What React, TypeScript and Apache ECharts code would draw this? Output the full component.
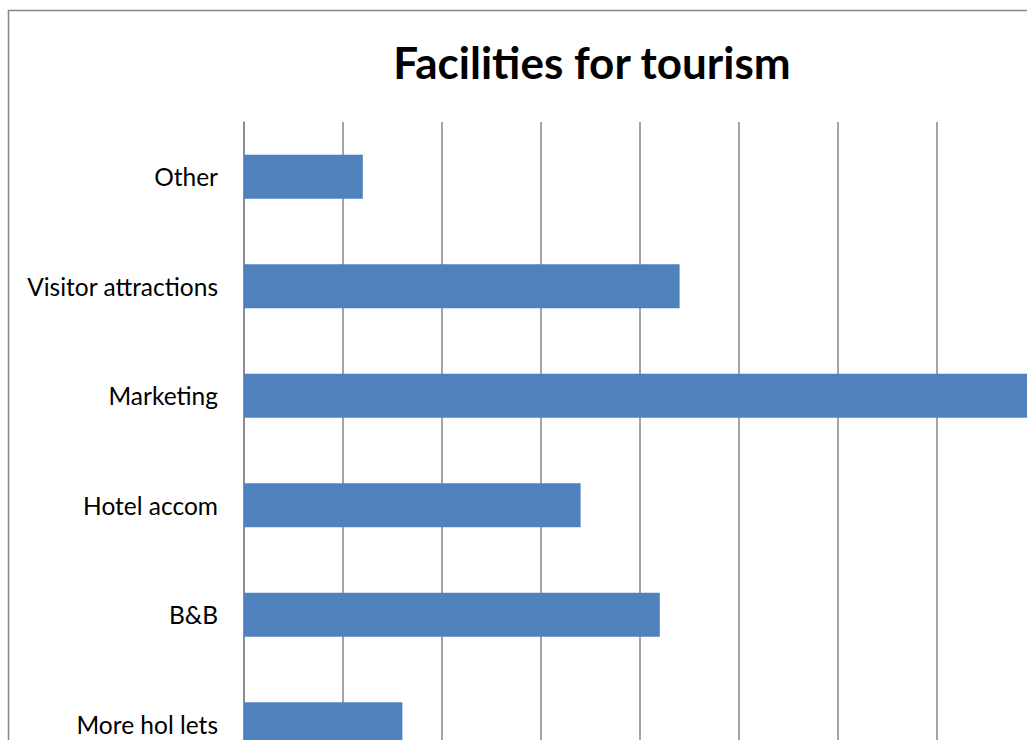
import React, { useEffect, useRef } from "react";
import * as echarts from "echarts";

const categories = ["Other", "Visitor attractions", "Marketing", "Hotel accom", "B&B", "More hol lets"];
const values = [6, 22, 42, 17, 21, 8];
const xTicks = { min: 0, max: 45, interval: 5 };

export default function App() {
  const ref = useRef<HTMLDivElement>(null);
  useEffect(() => {
    if (!ref.current) return;
    const chart = echarts.init(ref.current, null, { renderer: "svg" });
    chart.setOption({
      animation: false,
      backgroundColor: "#ffffff",
      graphic: [
        {
          type: "rect",
          shape: { x: 8.5, y: 10.5, width: 1168, height: 860 },
          style: { fill: "none", stroke: "#888888", lineWidth: 1.5 },
          z: 0,
        },
        {
          type: "text",
          x: 592,
          y: 62,
          style: {
            text: "Facilities for tourism",
            font: "bold 44px Lato, 'Open Sans', sans-serif",
            fill: "#000000",
            align: "center",
            verticalAlign: "middle",
          },
        },
      ],
      grid: { left: 244, top: 122, width: 891, height: 657, containLabel: false },
      xAxis: {
        type: "value",
        min: xTicks.min,
        max: xTicks.max,
        interval: xTicks.interval,
        axisLine: { show: false },
        axisTick: { show: false },
        axisLabel: { color: "#000", fontSize: 24, fontFamily: "Lato", margin: 10 },
        splitLine: { show: true, lineStyle: { color: "#868686", width: 1.5 } },
      },
      yAxis: {
        type: "category",
        data: categories,
        inverse: true,
        axisLine: { show: true, lineStyle: { color: "#868686", width: 1.5 } },
        axisTick: { show: false },
        axisLabel: { color: "#000", fontSize: 24.5, fontFamily: "Lato", margin: 26 },
        splitLine: { show: false },
      },
      series: [
        {
          type: "bar",
          data: values,
          barWidth: 44,
          itemStyle: { color: "#4F81BD" },
          z: 3,
        },
      ],
    });
    return () => chart.dispose();
  }, []);
  return (
    <div style={{ position: "fixed", left: 0, top: 0, width: 1027, height: 740, overflow: "hidden", background: "#fff" }}>
      <div ref={ref} style={{ width: 1200, height: 900 }} />
    </div>
  );
}
